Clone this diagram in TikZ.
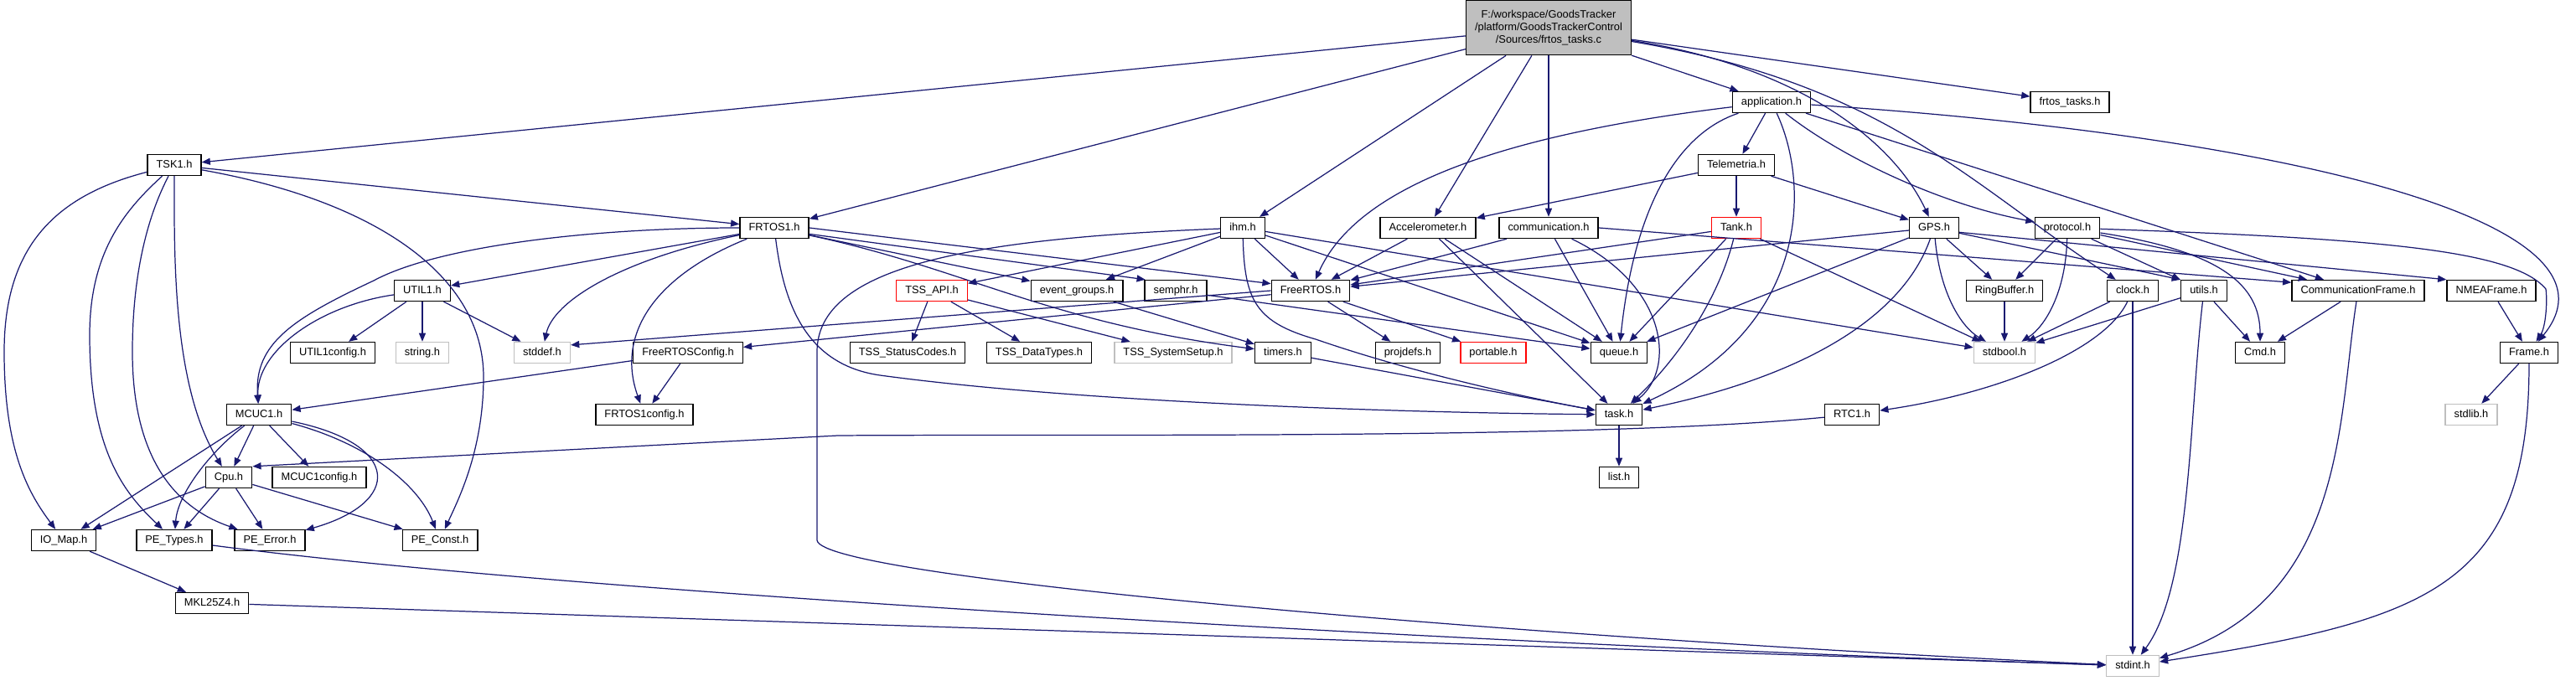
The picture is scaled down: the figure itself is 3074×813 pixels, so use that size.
\documentclass[tikz,border=0pt]{standalone}
\usepackage{fontspec}
\setmainfont{Liberation Sans}
\usetikzlibrary{arrows.meta}
\definecolor{depblue}{HTML}{191970}
\definecolor{sysgray}{HTML}{BFBFBF}
\newcommand{\hfont}{\fontsize{3.65}{4.27}\selectfont}

\begin{document}
\begin{tikzpicture}[x=0.01cm, y=-0.01cm,
    hfile/.style={draw=black, line width=0.4pt, fill=white, font=\hfont,
        inner xsep=3pt, inner ysep=1.8pt, text height=2.7pt, text depth=0.8pt},
    sysfile/.style={hfile, draw=sysgray},
    redfile/.style={hfile, draw=red},
    rootfile/.style={draw=black, line width=0.4pt, fill=sysgray, font=\hfont,
        align=center, inner xsep=3pt, minimum height=15.9pt},
    dep/.style={draw=depblue, line width=0.35pt, -{Triangle[length=2.9pt,width=2.3pt]}}]
    \useasboundingbox (0,0) rectangle (3074,813);

    % Source file
    \node[rootfile] (root) at (1848,33) {F:/workspace/GoodsTracker\\/platform/GoodsTrackerControl\\/Sources/frtos\_tasks.c};

    % Headers, row by row
    \node[hfile] (app) at (2114,122) {application.h};
    \node[hfile] (ftasksh) at (2470,122) {frtos\_tasks.h};

    \node[hfile] (tskone) at (208,197) {TSK1.h};
    \node[hfile] (telem) at (2072,197) {Telemetria.h};

    \node[hfile] (frtosone) at (924,272) {FRTOS1.h};
    \node[hfile] (ihm) at (1483,272) {ihm.h};
    \node[hfile] (accel) at (1704,272) {Accelerometer.h};
    \node[hfile] (comm) at (1848,272) {communication.h};
    \node[redfile] (tank) at (2072,272) {Tank.h};
    \node[hfile] (gps) at (2308,272) {GPS.h};
    \node[hfile] (protocol) at (2467,272) {protocol.h};

    \node[hfile] (utilone) at (504,347) {UTIL1.h};
    \node[redfile] (tssapi) at (1112,347) {TSS\_API.h};
    \node[hfile] (evgroups) at (1285,347) {event\_groups.h};
    \node[hfile] (semphr) at (1403,347) {semphr.h};
    \node[hfile] (freertos) at (1564,347) {FreeRTOS.h};
    \node[hfile] (ringbuf) at (2392,347) {RingBuffer.h};
    \node[hfile] (clk) at (2545,347) {clock.h};
    \node[hfile] (utils) at (2630,347) {utils.h};
    \node[hfile] (commframe) at (2814,347) {CommunicationFrame.h};
    \node[hfile] (nmea) at (2973,347) {NMEAFrame.h};

    \node[hfile] (utilcfg) at (397,421) {UTIL1config.h};
    \node[sysfile] (stringh) at (504,421) {string.h};
    \node[sysfile] (stddef) at (647,421) {stddef.h};
    \node[hfile] (frcfg) at (821,421) {FreeRTOSConfig.h};
    \node[hfile] (tssstatus) at (1083,421) {TSS\_StatusCodes.h};
    \node[hfile] (tssdata) at (1240,421) {TSS\_DataTypes.h};
    \node[sysfile] (tsssetup) at (1400,421) {TSS\_SystemSetup.h};
    \node[hfile] (timers) at (1531,421) {timers.h};
    \node[hfile] (projdefs) at (1680,421) {projdefs.h};
    \node[redfile] (portable) at (1782,421) {portable.h};
    \node[hfile] (queue) at (1932,421) {queue.h};
    \node[sysfile] (stdbool) at (2392,421) {stdbool.h};
    \node[hfile] (cmd) at (2697,421) {Cmd.h};
    \node[hfile] (frame) at (3018,421) {Frame.h};

    \node[hfile] (mcuc) at (309,495) {MCUC1.h};
    \node[hfile] (frtoscfg) at (769,495) {FRTOS1config.h};
    \node[hfile] (task) at (1932,495) {task.h};
    \node[hfile] (rtc) at (2210,495) {RTC1.h};
    \node[sysfile] (stdlib) at (2949,495) {stdlib.h};

    \node[hfile] (cpu) at (273,570) {Cpu.h};
    \node[hfile] (mcuccfg) at (381,570) {MCUC1config.h};
    \node[hfile] (list) at (1932,570) {list.h};

    \node[hfile] (iomap) at (76,645) {IO\_Map.h};
    \node[hfile] (petypes) at (208,645) {PE\_Types.h};
    \node[hfile] (peerror) at (322,645) {PE\_Error.h};
    \node[hfile] (peconst) at (525,645) {PE\_Const.h};

    \node[hfile] (mkl) at (253,720) {MKL25Z4.h};
    \node[sysfile] (stdint) at (2545,795) {stdint.h};

    % frtos_tasks.c
    \draw[dep] (root) -- (tskone);
    \draw[dep] (root) -- (frtosone);
    \draw[dep] (root) -- (ihm);
    \draw[dep] (root) -- (accel);
    \draw[dep] (root) -- (comm);
    \draw[dep] (root) -- (app);
    \draw[dep] (root) .. controls (2150,80) and (2260,170) .. (gps);
    \draw[dep] (root) .. controls (2250,100) and (2350,220) .. (clk);
    \draw[dep] (root) -- (ftasksh);

    % TSK1.h
    \draw[dep] (tskone) -- (frtosone);
    \draw[dep] (tskone) .. controls (60,235) and (5,300) .. (5,420) .. controls (5,540) and (35,590) .. (iomap);
    \draw[dep] (tskone) .. controls (150,250) and (107,300) .. (107,400) .. controls (107,540) and (150,590) .. (petypes);
    \draw[dep] (tskone) .. controls (175,260) and (158,330) .. (158,420) .. controls (158,560) and (220,610) .. (peerror);
    \draw[dep] (tskone) .. controls (208,300) and (205,460) .. (cpu);
    \draw[dep] (tskone) .. controls (450,240) and (577,330) .. (577,450) .. controls (577,540) and (545,600) .. (peconst);

    % FRTOS1.h
    \draw[dep] (frtosone) .. controls (700,272) and (520,295) .. (446,335) .. controls (350,380) and (303,410) .. (mcuc);
    \draw[dep] (frtosone) -- (utilone);
    \draw[dep] (frtosone) .. controls (740,310) and (660,360) .. (stddef);
    \draw[dep] (frtosone) .. controls (780,330) and (735,400) .. (frtoscfg);
    \draw[dep] (frtosone) .. controls (935,360) and (960,435) .. (1050,448) .. controls (1300,482) and (1700,493) .. (task);
    \draw[dep] (frtosone) -- (evgroups);
    \draw[dep] (frtosone.-10) -- (semphr.160);
    \draw[dep] (frtosone.east) -- (freertos.170);
    \draw[dep] (frtosone) .. controls (1150,320) and (1250,385) .. (timers);

    % UTIL1.h
    \draw[dep] (utilone) -- (utilcfg);
    \draw[dep] (utilone) -- (stringh);
    \draw[dep] (utilone) -- (stddef);
    \draw[dep] (utilone) .. controls (380,365) and (305,420) .. (mcuc);

    % ihm.h
    \draw[dep] (ihm) .. controls (1150,285) and (975,320) .. (975,420) -- (975,645) .. controls (980,690) and (1800,760) .. (stdint);
    \draw[dep] (ihm) -- (tssapi);
    \draw[dep] (ihm) -- (evgroups);
    \draw[dep] (ihm) -- (freertos);
    \draw[dep] (ihm) .. controls (1485,360) and (1500,385) .. (1570,405) .. controls (1700,450) and (1850,480) .. (task);
    \draw[dep] (ihm) -- (queue);
    \draw[dep] (ihm) -- (stdbool);

    % Accelerometer.h, communication.h
    \draw[dep] (accel) -- (freertos);
    \draw[dep] (accel) -- (queue);
    \draw[dep] (accel) -- (task);
    \draw[dep] (comm) -- (freertos);
    \draw[dep] (comm) -- (queue);
    \draw[dep] (comm) .. controls (1990,340) and (2000,440) .. (task);
    \draw[dep] (comm.east) -- (commframe.173);

    % application.h
    \draw[dep] (app) .. controls (1800,160) and (1620,220) .. (freertos);
    \draw[dep] (app) .. controls (2000,160) and (1950,250) .. (queue);
    \draw[dep] (app) -- (telem);
    \draw[dep] (app) .. controls (2160,220) and (2160,390) .. (task);
    \draw[dep] (app) .. controls (2200,190) and (2320,245) .. (protocol);
    \draw[dep] (app) -- (commframe);
    \draw[dep] (app) .. controls (2700,160) and (3150,260) .. (frame);

    % Telemetria.h, Tank.h
    \draw[dep] (telem) -- (accel);
    \draw[dep] (telem) -- (tank);
    \draw[dep] (telem) -- (gps);
    \draw[dep] (tank) -- (freertos);
    \draw[dep] (tank) -- (queue);
    \draw[dep] (tank) .. controls (2050,360) and (2000,430) .. (task);
    \draw[dep] (tank) -- (stdbool);

    % GPS.h
    \draw[dep] (gps) -- (freertos);
    \draw[dep] (gps) -- (queue);
    \draw[dep] (gps) .. controls (2270,380) and (2150,450) .. (task);
    \draw[dep] (gps) .. controls (2315,350) and (2340,390) .. (stdbool);
    \draw[dep] (gps) -- (ringbuf);
    \draw[dep] (gps) -- (utils.north west);
    \draw[dep] (gps.-10) -- (nmea.north west);

    % protocol.h
    \draw[dep] (protocol) -- (ringbuf);
    \draw[dep] (protocol) .. controls (2465,350) and (2440,390) .. (stdbool);
    \draw[dep] (protocol) -- (utils);
    \draw[dep] (protocol) -- (commframe);
    \draw[dep] (protocol) .. controls (2650,300) and (2697,340) .. (cmd);
    \draw[dep] (protocol) .. controls (2850,285) and (3000,300) .. (3038,345) .. controls (3040,360) and (3038,390) .. (frame);

    % FreeRTOS side
    \draw[dep] (tssapi) -- (tssstatus);
    \draw[dep] (tssapi) -- (tssdata);
    \draw[dep] (tssapi) -- (tsssetup);
    \draw[dep] (freertos.west) -- (stddef.15);
    \draw[dep] (freertos) -- (frcfg);
    \draw[dep] (freertos) -- (projdefs);
    \draw[dep] (freertos) -- (portable);
    \draw[dep] (evgroups) -- (timers);
    \draw[dep] (semphr) -- (queue);
    \draw[dep] (timers) -- (task);
    \draw[dep] (task) -- (list);

    % right hand headers
    \draw[dep] (ringbuf) -- (stdbool);
    \draw[dep] (clk) -- (stdbool);
    \draw[dep] (clk) .. controls (2510,420) and (2380,470) .. (rtc);
    \draw[dep] (clk) -- (stdint);
    \draw[dep] (utils) -- (stdbool);
    \draw[dep] (utils) -- (cmd);
    \draw[dep] (utils) .. controls (2612,500) and (2615,700) .. (stdint);
    \draw[dep] (commframe) -- (cmd);
    \draw[dep] (commframe) .. controls (2790,500) and (2800,720) .. (stdint);
    \draw[dep] (nmea) -- (frame);
    \draw[dep] (frame) -- (stdlib);
    \draw[dep] (frame) .. controls (3018,700) and (2900,740) .. (stdint);
    \draw[dep] (rtc) .. controls (1900,525) and (1300,518) .. (1000,520) -- (cpu.north east);

    % Processor Expert headers
    \draw[dep] (frcfg) -- (mcuc);
    \draw[dep] (frcfg) -- (frtoscfg);
    \draw[dep] (mcuc) -- (iomap);
    \draw[dep] (mcuc) -- (cpu);
    \draw[dep] (mcuc) -- (mcuccfg);
    \draw[dep] (mcuc) .. controls (250,540) and (212,590) .. (petypes);
    \draw[dep] (mcuc) .. controls (480,530) and (480,600) .. (peerror);
    \draw[dep] (mcuc) .. controls (440,530) and (500,580) .. (peconst);
    \draw[dep] (cpu) -- (iomap);
    \draw[dep] (cpu) -- (petypes);
    \draw[dep] (cpu) -- (peerror);
    \draw[dep] (cpu) -- (peconst);
    \draw[dep] (iomap) -- (mkl);
    \draw[dep] (petypes) .. controls (700,710) and (1800,770) .. (stdint);
    \draw[dep] (mkl) -- (stdint);
\end{tikzpicture}
\end{document}
